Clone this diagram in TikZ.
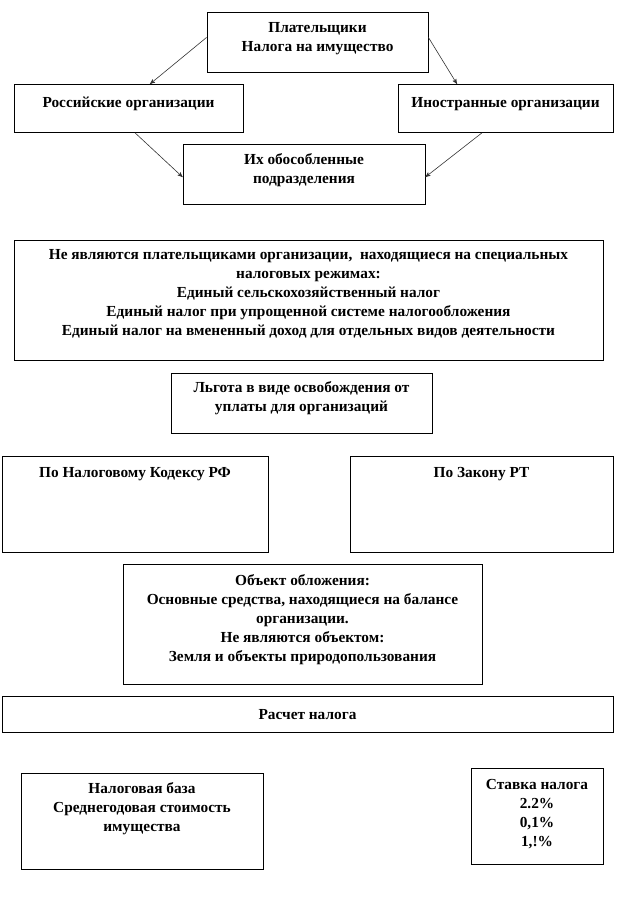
\documentclass[tikz,border=0pt]{standalone}
\usepackage{fontspec}
\setmainfont{Liberation Serif}
\usetikzlibrary{arrows,calc}

\newdimen\pxu \pxu=0.75pt
% text of a box: [top gap], width, height (in px), lines set from the top
\newcommand{\boxtext}[4][7]{\parbox[c][#3\pxu][t]{#2\pxu}{\centering\vspace*{#1\pxu}\strut#4}}

\begin{document}
\begin{tikzpicture}[x=0.75pt,y=-0.75pt,->,>=stealth',
	box node/.style={draw,-,line width=0.6pt,anchor=north,inner sep=0pt,font=\fontsize{11.5}{14.2}\selectfont\bfseries},
	link/.style={line width=0.45pt,black!80}]

	\useasboundingbox (0,0) rectangle (618,900);

	%payers
	\node[box node] (payers) at (317.5,12) {\boxtext{221}{60}{Плательщики\\Налога на имущество}};
	\node[box node] (rus) at (128.5,84) {\boxtext[10]{229}{48}{Российские организации}};
	\node[box node] (foreign) at (505.5,84) {\boxtext[10]{215}{48}{Иностранные организации}};
	\node[box node] (branches) at (304,144) {\boxtext{242}{60}{Их обособленные\\подразделения}};

	%edges
	\draw[link] ([yshift=3.75pt]payers.west) -- ($(rus.north)+(21.5,0)$);
	\draw[link] ([yshift=3.75pt]payers.east) -- ($(foreign.north)+(-48.5,0)$);
	\draw[link] ($(rus.south)+(6.5,0)$) -- ([yshift=-2pt]branches.west);
	\draw[link] ($(foreign.south)+(-23.5,0)$) -- ([yshift=-2pt]branches.east);

	%exemptions
	\node[box node] (notpayers) at (308.5,240) {\boxtext[6]{589}{120}{Не являются плательщиками организации,\ \ находящиеся на специальных\\налоговых режимах:\\Единый сельскохозяйственный налог\\Единый налог при упрощенной системе налогообложения\\Единый налог на вмененный доход для отдельных видов деятельности}};
	\node[box node] (benefit) at (301.5,373) {\boxtext[6]{261}{60}{Льгота в виде освобождения от\\уплаты для организаций}};
	\node[box node] (nk) at (135,456) {\boxtext[8]{266}{96}{По Налоговому Кодексу РФ}};
	\node[box node] (rt) at (481.5,456) {\boxtext[8]{263}{96}{По Закону РТ}};

	%object and calculation
	\node[box node] (object) at (302.5,564) {\boxtext[8]{359}{120}{Объект обложения:\\Основные средства, находящиеся на балансе\\организации.\\Не являются объектом:\\Земля и объекты природопользования}};
	\node[box node] (calc) at (307.5,696) {\boxtext[10]{611}{36}{Расчет налога}};
	\node[box node] (base) at (142,773) {\boxtext{242}{96}{Налоговая база\\Среднегодовая стоимость\\имущества}};
	\node[box node] (rate) at (537,768) {\boxtext[8]{132}{96}{Ставка налога\\2.2\%\\0,1\%\\1,!\%}};

\end{tikzpicture}
\end{document}
